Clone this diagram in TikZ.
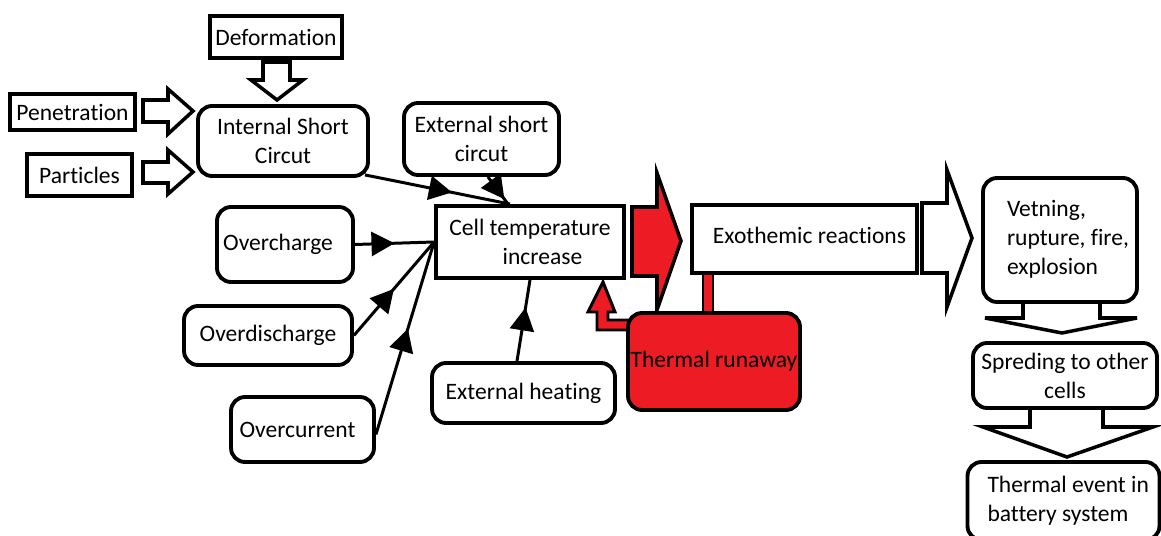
\documentclass[tikz,border=0pt]{standalone}
\usepackage{fontspec}
\setmainfont{Carlito}[Ligatures=NoCommon]
\usetikzlibrary{arrows.meta,decorations.markings,calc}
\definecolor{pred}{RGB}{237,28,36}
\begin{document}
\begin{tikzpicture}[x=0.02cm,y=-0.02cm,
  font=\fontsize{13.4}{16.5}\selectfont,
  sbox/.style={draw,line width=2.2pt,inner sep=0pt,align=center,fill=white},
  rbox/.style={sbox,rounded corners=0.28cm},
  conn/.style={line width=1.7pt},
  marr/.style={postaction={decorate},decoration={markings,mark=at position #1 with {\arrow{Triangle[length=0.46cm,width=0.48cm]}}}},
  blockw/.style={draw,line width=2pt,fill=white},
  blockr/.style={draw,line width=2pt,fill=pred}]
\useasboundingbox (0,0) rectangle (1161,536);

% block arrows (drawn first, boxes lie on top)
\draw[blockw] (263,62) -- (290,62) -- (290,80) -- (303,80) -- (277,100) -- (251,80) -- (263,80) -- cycle;
\draw[blockw] (143,100) -- (168,100) -- (168,89) -- (193,111) -- (168,134) -- (168,122) -- (143,122) -- cycle;
\draw[blockw] (143,162) -- (168,162) -- (168,150) -- (193,172) -- (168,194) -- (168,183) -- (143,183) -- cycle;
\draw[blockr] (632,207) -- (657,207) -- (657,173) -- (681,241) -- (657,310) -- (657,276) -- (632,276) -- cycle;
\draw[blockw] (922,203) -- (947,203) -- (947,170) -- (972,238) -- (947,307) -- (947,273) -- (922,273) -- cycle;
\draw[blockw] (1023,300) -- (1023,318) -- (985,318) -- (1062,333) -- (1137,318) -- (1100,318) -- (1100,300);
\draw[blockw] (1030,405) -- (1030,427) -- (983,427) -- (1067,457) -- (1153,427) -- (1103,427) -- (1103,405);
\fill[pred] (703,270) rectangle (713,316);
\draw[line width=1.7pt] (703,270) -- (703,316) (713,270) -- (713,316);
\draw[line width=1.7pt,fill=pred] (632,320) -- (608,320) -- (608,312) -- (615,312) -- (603,282) -- (588,312) -- (597,312) -- (597,330) -- (632,330);

% boxes
\node[sbox,minimum width=2.64cm,minimum height=0.84cm] (def) at (276,37) {Deformation};
\node[sbox,minimum width=2.5cm,minimum height=0.72cm] (pen) at (72.5,112) {Penetration};
\node[sbox,minimum width=2.1cm,minimum height=0.84cm] (par) at (79.5,175) {Particles};
\node[rbox,minimum width=3.4cm,minimum height=1.4cm] (isc) at (283,141) {Internal Short\\Circut};
\node[rbox,minimum width=3.1cm,minimum height=1.44cm] (esc) at (481.5,139) {External short\\circut};
\node[sbox,minimum width=3.76cm,minimum height=1.44cm] (cell) at (530,242) {Cell temperature\\\hspace*{0.5cm}increase};
\node[rbox,minimum width=2.72cm,minimum height=1.5cm] (ochg) at (285,244.5) {Overcharge\hspace*{0.28cm}};
\node[rbox,minimum width=3.36cm,minimum height=1.18cm] (odis) at (268,335.5) {Overdischarge};
\node[rbox,minimum width=2.86cm,minimum height=1.3cm] (ocur) at (302.5,429.5) {Overcurrent\hspace*{0.2cm}};
\node[rbox,minimum width=3.66cm,minimum height=1.2cm] (eh) at (523.5,393) {External heating};
\node[sbox,minimum width=4.5cm,minimum height=1.36cm] (exo) at (804.5,239) {\raisebox{0.16cm}{\hspace*{0.2cm}Exothemic reactions}};
\node[rbox,fill=pred,minimum width=3.44cm,minimum height=1.94cm] (tr) at (714,361.5) {Thermal runaway};
\node[rbox,minimum width=3.08cm,minimum height=2.48cm] (vet) at (1060,240) {\makebox[3.08cm][l]{\hspace*{0.48cm}\begin{tabular}{@{}l@{}}Vetning,\\rupture, fire,\\explosion\end{tabular}}};
\node[rbox,minimum width=3.68cm,minimum height=1.3cm] (spr) at (1065,375.5) {Spreding to other\\cells};
\node[rbox,minimum width=3.84cm,minimum height=1.56cm] (tev) at (1063.5,501) {\makebox[3.84cm][l]{\hspace*{0.4cm}\begin{tabular}{@{}l@{}}Thermal event in\\battery system\end{tabular}}};

% thin connectors
\draw[conn,marr=0.6] ([xshift=-0.1cm,yshift=0.06cm]isc.south east) -- ([xshift=-0.4cm]cell.north);
\draw[conn,marr=0.82] ([xshift=0.13cm]esc.south) -- ([xshift=-0.44cm]cell.north);
\draw[conn,marr=0.5] (ochg.east) -- (cell.west);
\draw[conn,marr=0.5] (odis.east) -- (cell.west);
\draw[conn,marr=0.55] ([yshift=-0.1cm]ocur.east) -- (cell.west);
\draw[conn,marr=0.66] ([xshift=-0.13cm]eh.north) -- (cell.south);
\end{tikzpicture}
\end{document}
